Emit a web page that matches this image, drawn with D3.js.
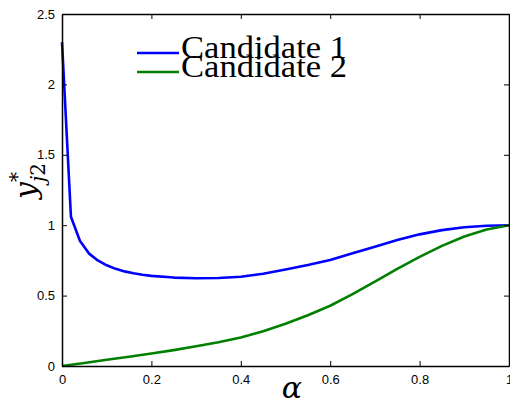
<!DOCTYPE html>
<html>
<head>
<meta charset="utf-8">
<script src="https://cdn.jsdelivr.net/npm/d3@7"></script>
<style>
  body { margin: 0; background: #fff; }
  svg { display: block; }
</style>
</head>
<body>
<div id="body"></div>
<script>
// alpha values and the two candidate curves
var alpha1 = [0, 0.02, 0.04, 0.06, 0.08, 0.10, 0.12, 0.14, 0.16, 0.18, 0.20, 0.25, 0.30, 0.35, 0.40, 0.45,
              0.50, 0.55, 0.60, 0.65, 0.70, 0.75, 0.80, 0.85, 0.90, 0.95, 1.00];
var cand1 = [2.30, 1.06, 0.89, 0.80, 0.75, 0.715, 0.69, 0.672, 0.659, 0.648, 0.64, 0.628, 0.623, 0.625, 0.634, 0.655,
             0.685, 0.717, 0.753, 0.80, 0.847, 0.895, 0.935, 0.965, 0.985, 0.996, 1.0];

var alpha2 = [0, 0.05, 0.10, 0.15, 0.20, 0.25, 0.30, 0.35, 0.40, 0.45, 0.50,
              0.55, 0.60, 0.65, 0.70, 0.75, 0.80, 0.85, 0.90, 0.95, 1.00];
var cand2 = [0, 0.021, 0.044, 0.066, 0.089, 0.113, 0.14, 0.169, 0.203, 0.247, 0.30,
             0.36, 0.428, 0.51, 0.60, 0.69, 0.775, 0.853, 0.92, 0.97, 1.0];

var seriesNames = ["Candidate 1", "Candidate 2"];
var seriesColors = ["#0000ff", "#008000"];
var xTicks = [0, 0.2, 0.4, 0.6, 0.8, 1];
var yTicks = [0, 0.5, 1, 1.5, 2, 2.5];

var margin = { top: 14, right: 1, bottom: 33, left: 62 },
    width = 510 - margin.left - margin.right,
    height = 399 - margin.top - margin.bottom;

var svg = d3.select("#body").append("svg")
    .attr("width", 510)
    .attr("height", 399);

var g = svg.append("g")
    .attr("transform", "translate(" + margin.left + "," + margin.top + ")");

var x = d3.scaleLinear().domain([0, 1]).range([0, width]);
var y = d3.scaleLinear().domain([0, 2.5]).range([height, 0]);

var tickFont = "'Liberation Sans', Arial, sans-serif";

// curves
var line = d3.line()
    .x(d => x(d[0]))
    .y(d => y(d[1]));

var series = [d3.zip(alpha1, cand1), d3.zip(alpha2, cand2)];

g.selectAll("path.curve")
    .data(series)
    .enter().append("path")
    .attr("class", "curve")
    .attr("d", line)
    .attr("fill", "none")
    .attr("stroke", (d, i) => seriesColors[i])
    .attr("stroke-width", 2.6)
    .attr("stroke-linejoin", "round");

// axes (MATLAB style box, ticks inside)
var xAxis = g.append("g")
    .attr("transform", "translate(0," + height + ")")
    .call(d3.axisBottom(x).tickValues(xTicks).tickSizeInner(-5).tickSizeOuter(0).tickPadding(9)
        .tickFormat(d3.format("")));
var yAxis = g.append("g")
    .call(d3.axisLeft(y).tickValues(yTicks).tickSizeInner(-5).tickSizeOuter(0).tickPadding(7)
        .tickFormat(d3.format("")));
var xTop = g.append("g")
    .call(d3.axisTop(x).tickValues(xTicks).tickSizeInner(-5).tickSizeOuter(0).tickFormat(""));
var yRight = g.append("g")
    .attr("transform", "translate(" + width + ",0)")
    .call(d3.axisRight(y).tickValues(yTicks).tickSizeInner(-5).tickSizeOuter(0).tickFormat(""));

[xAxis, yAxis, xTop, yRight].forEach(a => {
    a.select(".domain").attr("stroke", "#000").attr("stroke-width", 1.5);
    a.selectAll(".tick line").attr("stroke", "#000").attr("stroke-width", 1);
    a.selectAll("text")
        .attr("fill", "#000")
        .style("font-family", tickFont)
        .style("font-size", "13px");
});

// axis labels
svg.append("text")
    .attr("x", 292)
    .attr("y", 398)
    .attr("text-anchor", "middle")
    .style("font-family", "'DejaVu Serif', serif")
    .style("font-style", "italic")
    .style("font-size", "30px")
    .text("\u03b1");

var ylab = svg.append("text")
    .attr("transform", "translate(36,199) rotate(-90)")
    .style("font-family", "'DejaVu Serif', serif")
    .style("font-style", "italic")
    .style("font-size", "30px");
ylab.append("tspan").text("y");
ylab.append("tspan").attr("dy", -12).style("font-size", "20px").style("font-style", "normal").text("*");
ylab.append("tspan").attr("dx", -10).attr("dy", 21).style("font-size", "20px").text("j");
ylab.append("tspan").style("font-size", "20px").style("font-style", "normal").text("2");

// legend
var legend = svg.selectAll("g.legend")
    .data(seriesNames)
    .enter().append("g")
    .attr("class", "legend")
    .attr("transform", (d, i) => "translate(137," + (53 + i * 19) + ")");

legend.append("line")
    .attr("x1", 0).attr("x2", 42)
    .attr("stroke", (d, i) => seriesColors[i])
    .attr("stroke-width", 2.6);

legend.append("text")
    .attr("x", 44)
    .attr("y", 5)
    .attr("textLength", 166)
    .attr("lengthAdjust", "spacingAndGlyphs")
    .style("font-family", "'Liberation Serif', serif")
    .style("font-size", "31px")
    .attr("fill", "#000")
    .text(d => d);
</script>
</body>
</html>
